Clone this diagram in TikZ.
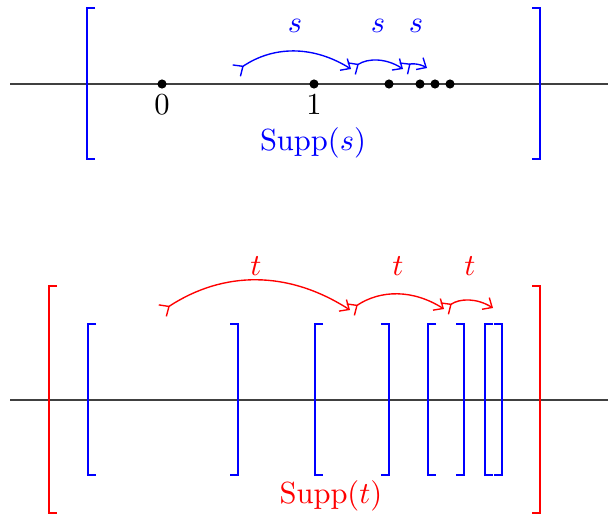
\documentclass[tikz,border=0pt]{standalone}
\usetikzlibrary{arrows.meta}
\tikzset{
  axis line/.style={draw=black!75,line width=0.5pt},
  dot/.style={circle,fill=black,inner sep=0pt,minimum size=3pt},
  supp bracket/.style={line width=0.45pt},
  jump arc/.style={{Straight Barb[reversed,length=2.5pt,width=4.5pt]}-{Straight Barb[length=2.5pt,width=4.5pt]},
    bend left=33,line width=0.45pt}
}
\begin{document}
\begin{tikzpicture}[x=0.0115cm,y=-0.0115cm]
  \useasboundingbox (0,0) rectangle (608,516);
  % support of s
  \draw[axis line] (10,84) -- (608,84);
  \draw[blue,supp bracket] (95,8) -- (87,8) -- (87,159) -- (95,159);
  \draw[blue,supp bracket] (532,8) -- (540,8) -- (540,159) -- (532,159);
  \foreach \x/\name in {162/p0,314/p1,389/p2,420/p3,435/p4,450/p5}
    \node[dot] (\name) at (\x,84) {};
  \node (zero) at (162,105) {$0$};
  \node (one) at (314,105) {$1$};
  \node[text=blue] (suppS) at (313,143) {$\mathrm{Supp}(s)$};
  \coordinate (s0) at (236,71);
  \coordinate (s1) at (351,69);
  \coordinate (s2) at (403,69);
  \coordinate (s3) at (427,68);
  \draw[blue,jump arc] (s0) to (s1);
  \draw[blue,jump arc] (s1) to (s2);
  \draw[blue,jump arc] (s2) to (s3);
  \node[text=blue] (sA) at (295,26) {$s$};
  \node[text=blue] (sB) at (378,26) {$s$};
  \node[text=blue] (sC) at (416,26) {$s$};
  % support of t
  \draw[axis line] (10,400) -- (608,400);
  \draw[red,supp bracket] (57,286) -- (49,286) -- (49,513) -- (57,513);
  \draw[red,supp bracket] (532,286) -- (540,286) -- (540,513) -- (532,513);
  \foreach \l/\r in {88/238,315/389,428/464,485/502}{
    \draw[blue,supp bracket] (\l+8,324) -- (\l,324) -- (\l,475) -- (\l+8,475);
    \draw[blue,supp bracket] (\r-8,324) -- (\r,324) -- (\r,475) -- (\r-8,475);
  }
  \node[text=red] (suppT) at (331,496) {$\mathrm{Supp}(t)$};
  \coordinate (t0) at (162,311);
  \coordinate (t1) at (350,310);
  \coordinate (t2) at (444,309);
  \coordinate (t3) at (493,308);
  \draw[red,jump arc] (t0) to (t1);
  \draw[red,jump arc] (t1) to (t2);
  \draw[red,jump arc] (t2) to (t3);
  \node[text=red] (tA) at (256,266) {$t$};
  \node[text=red] (tB) at (398,266) {$t$};
  \node[text=red] (tC) at (470,266) {$t$};
\end{tikzpicture}
\end{document}
